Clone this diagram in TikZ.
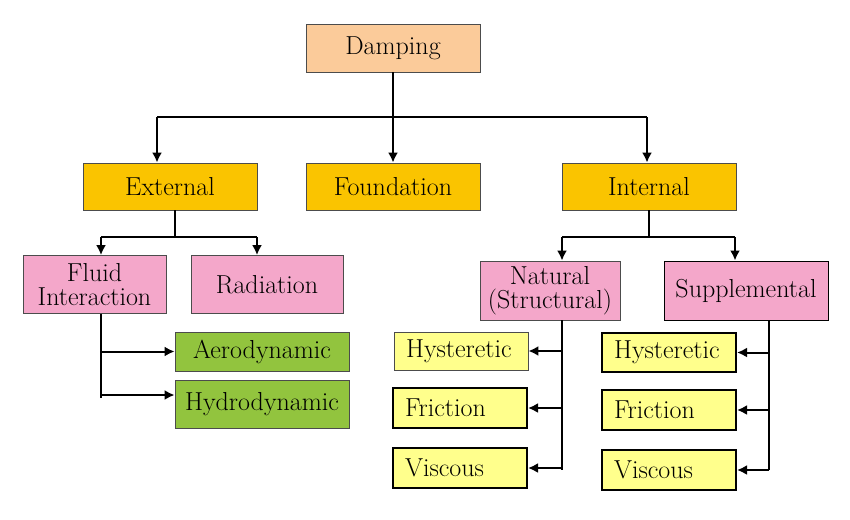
\documentclass[tikz,border=0pt]{standalone}
\usepackage{fontspec}
\usepackage{tikz}
\usetikzlibrary{arrows,arrows.meta,shapes}
\definecolor{peach}{RGB}{251,203,154}
\definecolor{gold}{RGB}{250,196,0}
\definecolor{pinky}{RGB}{244,167,202}
\definecolor{leaf}{RGB}{146,196,62}
\definecolor{lemon}{RGB}{255,255,140}
\tikzstyle{box}=[draw=black!70, line width=0.8pt, inner sep=0pt, text=black,
                 font=\fontsize{26}{24}\selectfont, align=center]
\tikzstyle{topbox}=[box, fill=peach, minimum width=174pt, minimum height=48pt]
\tikzstyle{midbox}=[box, fill=gold, minimum width=174pt, minimum height=47pt]
\tikzstyle{subbox}=[box, fill=pinky, minimum height=58pt]
\tikzstyle{leafbox}=[box, fill=leaf, minimum width=174pt]
\tikzstyle{yelbox}=[box, fill=lemon, text width=110pt, align=left,
                    inner xsep=12pt, minimum height=39pt]
\tikzstyle{heavy}=[draw=black, line width=2pt]
\tikzstyle{ln}=[draw, line width=2pt]
\tikzstyle{arr}=[-{Latex[length=10pt,width=10pt]}, draw, line width=2pt]

\begin{document}
\begin{tikzpicture}[x=1pt, y=-1pt]
\path[use as bounding box, fill=white] (0,0) rectangle (850,519);
% top levels
\node[topbox] (damp) at (393,48) {Damping};
\node[midbox] (ext) at (170,186.5) {External};
\node[midbox] (found) at (393,186.5) {Foundation};
\node[midbox] (intl) at (649,186.5) {Internal};
% external side
\node[subbox, minimum width=143pt] (fluid) at (94.5,284.5) {Fluid\\Interaction};
\node[subbox, minimum width=152pt] (rad) at (267,284.5) {Radiation};
\node[leafbox, minimum height=39pt] (aero) at (262,351.5) {Aerodynamic};
\node[leafbox, minimum height=48pt] (hydro) at (262,404) {Hydrodynamic};
% internal side
\node[subbox, minimum width=140pt, minimum height=59pt] (nat) at (550,290.5) {Natural\\(Structural)};
\node[subbox, heavy, line width=1pt, minimum width=164pt, minimum height=59pt] (supp) at (746,290.5) {Supplemental};
\node[yelbox, minimum height=38pt] (hysta) at (461,351) {Hysteretic};
\node[yelbox, heavy, minimum height=40pt] (frica) at (460,408) {Friction};
\node[yelbox, heavy, minimum height=40pt] (visca) at (460,468) {Viscous};
\node[yelbox, heavy] (hystb) at (669,352.5) {Hysteretic};
\node[yelbox, heavy, minimum height=40pt] (fricb) at (669,410) {Friction};
\node[yelbox, heavy, minimum height=40pt] (viscb) at (669,470) {Viscous};
% junction points
\coordinate (t0) at (157,117);
\coordinate (t1) at (647,117);
\coordinate (x0) at (175,237);
\coordinate (e0) at (101,237);
\coordinate (e1) at (257,237);
\coordinate (i0) at (562,237);
\coordinate (i1) at (735,237);
\coordinate (f0) at (101,398);
\coordinate (hin) at ([yshift=9pt]hydro.west);
\coordinate (n0) at (562,470);
\coordinate (s0) at (769,470);
% connectors
\path[ln] (damp.south) -- (damp.south |- t0);
\path[ln] (t0) -- (t1);
\path[arr] (t0) -- (t0 |- ext.north);
\path[arr] (damp.south |- t0) -- (found.north);
\path[arr] (t1) -- (t1 |- intl.north);
\path[ln] (x0 |- ext.south) -- (x0);
\path[ln] (e0) -- (e1);
\path[arr] (e0) -- (e0 |- fluid.north);
\path[arr] (e1) -- (e1 |- rad.north);
\path[ln] (f0 |- fluid.south) -- (f0);
\path[arr] (f0 |- aero.west) -- (aero.west);
\path[arr] (f0 |- hin) -- (hin);
\path[ln] (intl.south) -- (intl.south |- i0);
\path[ln] (i0) -- (i1);
\path[arr] (i0) -- (i0 |- nat.north);
\path[arr] (i1) -- (i1 |- supp.north);
\path[ln] (n0 |- nat.south) -- (n0);
\path[arr] (n0 |- hysta.east) -- (hysta.east);
\path[arr] (n0 |- frica.east) -- (frica.east);
\path[arr] (n0 |- visca.east) -- (visca.east);
\path[ln] (s0 |- supp.south) -- (s0);
\path[arr] (s0 |- hystb.east) -- (hystb.east);
\path[arr] (s0 |- fricb.east) -- (fricb.east);
\path[arr] (s0 |- viscb.east) -- (viscb.east);
\end{tikzpicture}
\end{document}
